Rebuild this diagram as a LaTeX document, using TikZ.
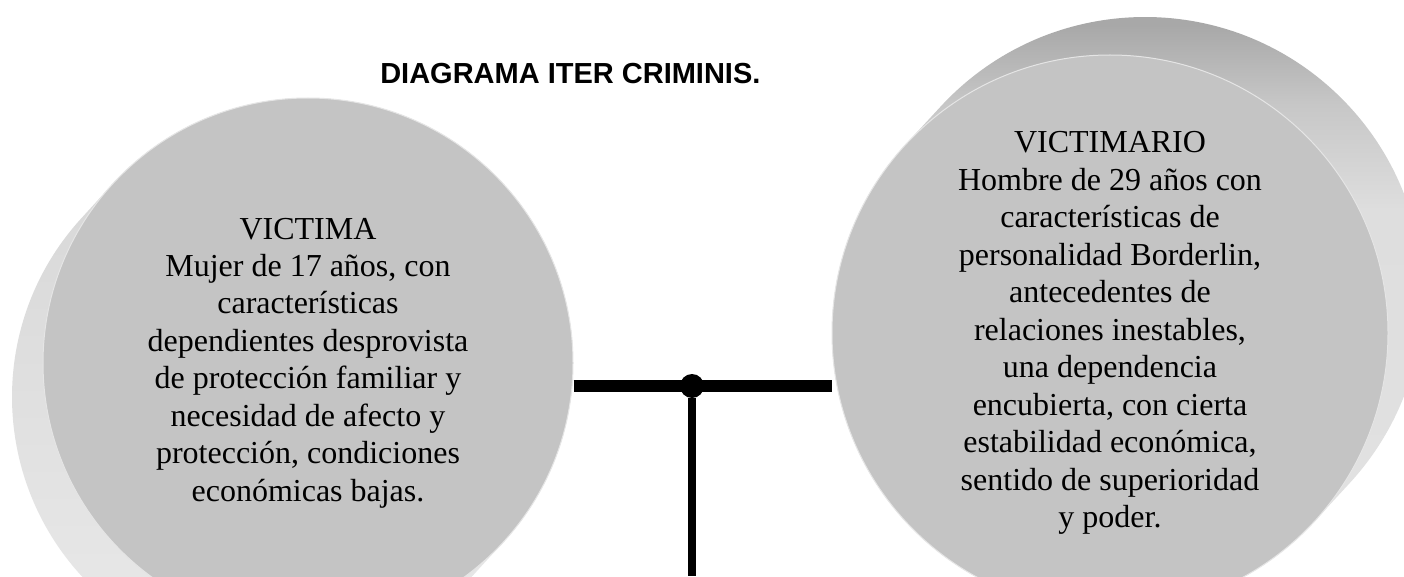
\documentclass[tikz,border=0pt]{standalone}
\usepackage{fontspec}
\setmainfont{Liberation Serif}
\newfontfamily\titlefont{Liberation Sans}
% rim shading: dark only near the top edge
\pgfdeclareverticalshading{rimtop}{100bp}{color(0bp)=(black!10); color(25bp)=(black!11);
  color(58bp)=(black!13); color(66bp)=(black!22); color(72bp)=(black!34); color(100bp)=(black!38)}
\begin{document}
\begin{tikzpicture}
[
   x=0.75pt, y=0.75pt,
   face/.style={circle,fill=black!23,draw=black!10,line width=0.75pt,inner sep=0pt,
     align=center,font=\fontsize{24}{28.1}\selectfont},
   bar/.style={line width=9pt},
   dot/.style={circle,fill=black,inner sep=0pt,minimum size=18pt}
]
\useasboundingbox (0,0) rectangle (1404,576);
\clip (0,0) rectangle (1404,576);
\fill[white] (0,0) rectangle (1404,576);

\coordinate (vc) at (308,213);
\coordinate (rc) at (1110,243);

% rims of the two discs
\shade[top color=black!17, bottom color=black!8]
  (vc) ++(317.64:265) arc[start angle=317.64, end angle=497.64, radius=265]
  -- ++(-31,-34) arc[start angle=137.64, end angle=317.64, radius=265] -- cycle;
\shade[shading=rimtop]
  (rc) ++(137.36:278) arc[start angle=137.36, end angle=317.36, radius=278]
  -- ++(35,38) arc[start angle=317.36, end angle=497.36, radius=278] -- cycle;

\node[face,minimum size=397.5pt] (victima) at (vc) {VICTIMA\\
  Mujer de 17 años, con\\ características\\ dependientes desprovista\\
  de protección familiar y\\ necesidad de afecto y\\
  protección, condiciones\\ económicas bajas.};
\node[face,minimum size=417pt] (victimario) at (rc) {VICTIMARIO\\
  Hombre de 29 años con\\ características de\\ personalidad Borderlin,\\
  antecedentes de\\ relaciones inestables,\\ una dependencia\\
  encubierta, con cierta\\ estabilidad económica,\\
  sentido de superioridad\\ y poder.};

\node[anchor=base west,inner sep=0pt,font=\titlefont\bfseries\fontsize{21.75}{26}\selectfont]
  (title) at (380,492) {DIAGRAMA ITER CRIMINIS.};

% connectors
\node[dot] (junction) at (692,190) {};
\coordinate (bottom) at (692,0);
\draw[bar] (junction -| victima.east) -- (junction -| victimario.west);
\draw[line width=6pt] (junction) -- (bottom);
\end{tikzpicture}
\end{document}
